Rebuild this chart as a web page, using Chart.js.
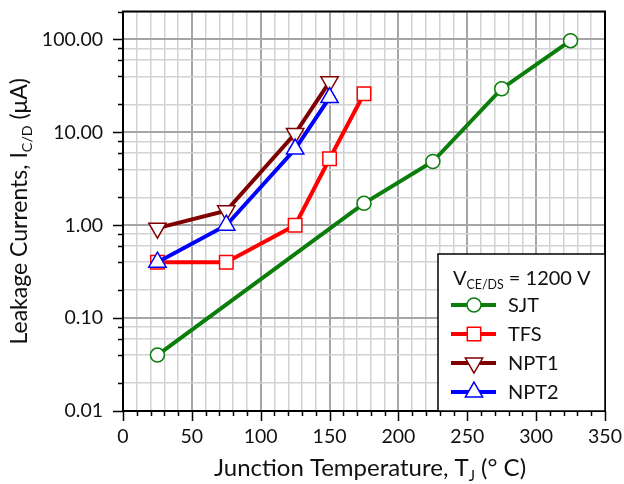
<!DOCTYPE html>
<html>
<head>
<meta charset="utf-8">
<script src="https://cdn.jsdelivr.net/npm/chart.js@4/dist/chart.umd.min.js"></script>
<style>
  body { margin: 0; background: #fff; }
  canvas { display: block; }
</style>
</head>
<body>
<canvas id="leakChart" width="624" height="484"></canvas>
<script>
// Junction temperatures (deg C) per device
var sjtTemps = [25, 175, 225, 275, 325];
var tfsTemps = [25, 75, 125, 150, 175];
var npt1Temps = [25, 75, 125, 150];
var npt2Temps = [25, 75, 125, 150];

// Leakage currents (uA) at VCE/DS = 1200 V
var sjtLeak = [0.04, 1.72, 4.85, 29.5, 97];
var tfsLeak = [0.4, 0.4, 1.0, 5.2, 26];
var npt1Leak = [0.93, 1.43, 9.7, 35];
var npt2Leak = [0.4, 1.0, 6.6, 23.7];

var seriesNames = ["SJT", "TFS", "NPT1", "NPT2"];

// Axis ticks
var xTickLabels = [0, 50, 100, 150, 200, 250, 300, 350];
var xMinorStep = 10;
var yDecades = [0.01, 0.1, 1, 10, 100];
var yTickLabels = ["0.01", "0.10", "1.00", "10.00", "100.00"];
var yMinorSteps = [2, 4, 6, 8];
var yMax = 200;

var FONT = "Lato";

// gridline values on the log axis: each decade plus 2, 4, 6, 8 times it
var yGridValues = [];
yDecades.forEach(function (d) {
  yGridValues.push(d);
  yMinorSteps.forEach(function (m) {
    yGridValues.push(Number((d * m).toPrecision(3)));
  });
});
yGridValues = yGridValues.filter(function (v) { return v <= yMax; });

function isDecade(v) {
  return yDecades.some(function (d) { return Math.abs(v / d - 1) < 1e-6; });
}

function toPoints(xs, ys) {
  return xs.map(function (x, i) { return { x: x, y: ys[i] }; });
}

var datasets = [
  {
    label: seriesNames[0],
    data: toPoints(sjtTemps, sjtLeak),
    borderColor: "#0b7d0b",
    pointStyle: "circle",
    pointRadius: 7,
    pointRotation: 0,
    order: 3
  },
  {
    label: seriesNames[1],
    data: toPoints(tfsTemps, tfsLeak),
    borderColor: "#ff0000",
    pointStyle: "rect",
    pointRadius: 9.5,
    pointRotation: 0,
    order: 2
  },
  {
    label: seriesNames[2],
    data: toPoints(npt1Temps, npt1Leak),
    borderColor: "#7f0000",
    pointStyle: "triangle",
    pointRadius: 10,
    pointRotation: 180,
    order: 1
  },
  {
    label: seriesNames[3],
    data: toPoints(npt2Temps, npt2Leak),
    borderColor: "#0000ff",
    pointStyle: "triangle",
    pointRadius: 10,
    pointRotation: 0,
    order: 0
  }
];
datasets.forEach(function (ds) {
  ds.borderWidth = 4;
  ds.pointBorderColor = ds.borderColor;
  ds.pointBackgroundColor = "#ffffff";
  ds.pointBorderWidth = 1.5;
  ds.pointHoverRadius = ds.pointRadius;
  ds.fill = false;
  ds.tension = 0;
});

// text with subscript runs, parts = [[text, isSub], ...]
function drawRich(ctx, parts, x, y, size, align) {
  var widths = parts.map(function (p) {
    ctx.font = (p[1] ? size * 0.62 : size) + "px " + FONT;
    return ctx.measureText(p[0]).width;
  });
  var total = widths.reduce(function (a, b) { return a + b; }, 0);
  var cx = align === "center" ? x - total / 2 : x;
  ctx.textAlign = "left";
  ctx.textBaseline = "alphabetic";
  parts.forEach(function (p, i) {
    ctx.font = (p[1] ? size * 0.62 : size) + "px " + FONT;
    ctx.fillText(p[0], cx, y + (p[1] ? size * 0.2 : 0));
    cx += widths[i];
  });
}

var decorPlugin = {
  id: "decor",
  beforeDatasetsDraw: function (chart) {
    var ctx = chart.ctx;
    var area = chart.chartArea;
    var xs = chart.scales.x;
    var ys = chart.scales.y;
    ctx.save();
    ctx.strokeStyle = "#000";
    ctx.lineWidth = 1.5;
    // outward tick marks
    ctx.beginPath();
    for (var v = xs.min; v <= xs.max; v += xMinorStep) {
      var px = Math.round(xs.getPixelForValue(v)) + 0.5;
      var len = xTickLabels.indexOf(v) >= 0 ? 10 : 5;
      ctx.moveTo(px, area.bottom);
      ctx.lineTo(px, area.bottom + len);
    }
    yGridValues.forEach(function (val) {
      var py = Math.round(ys.getPixelForValue(val)) + 0.5;
      var len = isDecade(val) ? 10 : 5;
      ctx.moveTo(area.left, py);
      ctx.lineTo(area.left - len, py);
    });
    ctx.stroke();
    // plot frame
    ctx.lineWidth = 2;
    ctx.strokeRect(area.left, area.top, area.right - area.left, area.bottom - area.top);
    ctx.restore();
  },
  afterDraw: function (chart) {
    var ctx = chart.ctx;
    var area = chart.chartArea;
    ctx.save();
    ctx.fillStyle = "#111";

    // axis titles
    drawRich(ctx, [["Junction Temperature, T", false], ["J", true], [" (\u00B0 C)", false]],
      (area.left + area.right) / 2 + 6, 476, 24, "center");
    ctx.save();
    ctx.translate(27, (area.top + area.bottom) / 2);
    ctx.rotate(-Math.PI / 2);
    drawRich(ctx, [["Leakage Currents, I", false], ["C/D", true], [" (\u03BCA)", false]],
      0, 0, 23, "center");
    ctx.restore();

    // legend box in the lower right corner of the plot
    var bx = area.right - 167;
    var by = area.bottom - 157;
    ctx.fillStyle = "#fff";
    ctx.fillRect(bx, by, 167, 157);
    ctx.strokeStyle = "#000";
    ctx.lineWidth = 1.5;
    ctx.strokeRect(bx, by, 167, 157);
    ctx.fillStyle = "#111";
    drawRich(ctx, [["V", false], ["CE/DS", true], [" = 1200 V", false]], bx + 15, by + 31, 20, "left");

    chart.data.datasets.forEach(function (ds, i) {
      var rowY = by + 51 + i * 29;
      ctx.strokeStyle = ds.borderColor;
      ctx.lineWidth = 4;
      ctx.beginPath();
      ctx.moveTo(bx + 13, rowY);
      ctx.lineTo(bx + 58, rowY);
      ctx.stroke();
      ctx.fillStyle = "#fff";
      ctx.lineWidth = 1.5;
      Chart.helpers.drawPoint(ctx, {
        pointStyle: ds.pointStyle,
        radius: ds.pointRadius,
        rotation: ds.pointRotation,
        borderWidth: 1.5
      }, bx + 36, rowY);
      ctx.fillStyle = "#111";
      ctx.font = "20px " + FONT;
      ctx.textAlign = "left";
      ctx.textBaseline = "middle";
      ctx.fillText(ds.label, bx + 70, rowY + 1);
    });
    ctx.restore();
  }
};

var ctx = document.getElementById("leakChart").getContext("2d");
var chart = new Chart(ctx, {
  type: "line",
  data: { datasets: datasets },
  options: {
    responsive: false,
    animation: false,
    layout: { padding: { top: 6, right: 19, left: 0, bottom: 0 } },
    plugins: {
      legend: { display: false },
      tooltip: { enabled: false }
    },
    scales: {
      x: {
        type: "linear",
        min: 0,
        max: 350,
        afterFit: function (s) {
          s.height = 73;
          s.paddingLeft = 0;
          s.paddingRight = 0;
        },
        border: { display: false },
        grid: {
          drawTicks: false,
          color: function (c) {
            return c.tick && xTickLabels.indexOf(c.tick.value) >= 0 ? "#a6a6a6" : "#d2d2d2";
          },
          lineWidth: function (c) {
            return c.tick && xTickLabels.indexOf(c.tick.value) >= 0 ? 2 : 1.5;
          }
        },
        ticks: {
          stepSize: xMinorStep,
          autoSkip: false,
          maxRotation: 0,
          padding: 14,
          color: "#111",
          font: { family: FONT, size: 19.5 },
          callback: function (v) {
            return xTickLabels.indexOf(v) >= 0 ? String(v) : "";
          }
        }
      },
      y: {
        type: "logarithmic",
        min: yDecades[0],
        max: yMax,
        afterFit: function (s) {
          s.width = 123;
          s.paddingTop = 0;
          s.paddingBottom = 0;
        },
        afterBuildTicks: function (s) {
          s.ticks = yGridValues.map(function (v) { return { value: v }; });
        },
        border: { display: false },
        grid: {
          drawTicks: false,
          color: function (c) {
            return c.tick && isDecade(c.tick.value) ? "#a6a6a6" : "#d2d2d2";
          },
          lineWidth: function (c) {
            return c.tick && isDecade(c.tick.value) ? 2 : 1.5;
          }
        },
        ticks: {
          autoSkip: false,
          padding: 20,
          color: "#111",
          font: { family: FONT, size: 19.5 },
          callback: function (v) {
            for (var i = 0; i < yDecades.length; i++) {
              if (Math.abs(v / yDecades[i] - 1) < 1e-6) return yTickLabels[i];
            }
            return "";
          }
        }
      }
    }
  },
  plugins: [decorPlugin]
});
</script>
</body>
</html>
